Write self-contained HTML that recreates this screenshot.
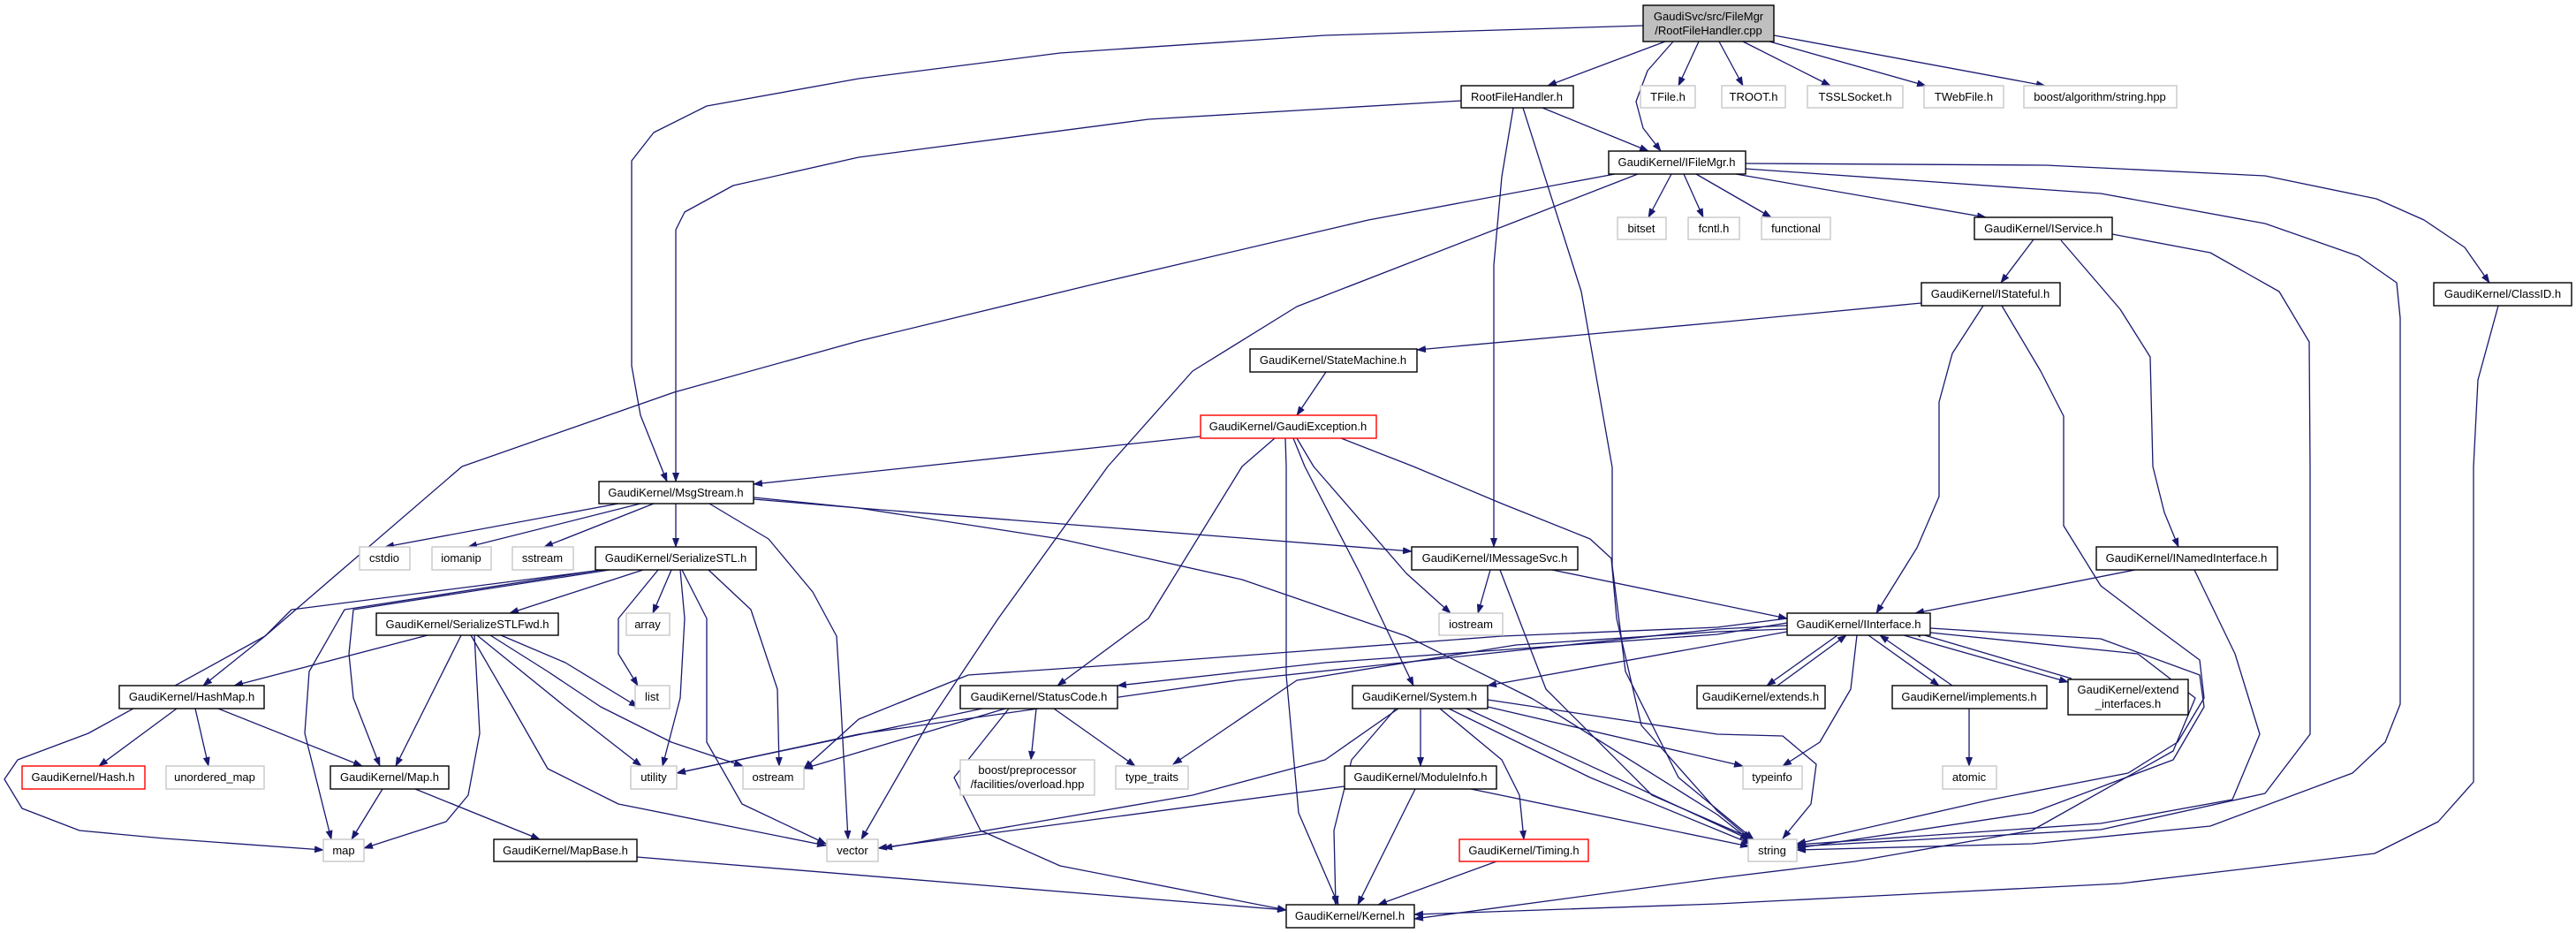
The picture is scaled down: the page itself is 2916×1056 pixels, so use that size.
<!DOCTYPE html>
<html><head><meta charset="utf-8"><style>
html,body{margin:0;padding:0;background:#fff;}
svg{display:block;}
text{font-family:"Liberation Sans",Arial,sans-serif;font-size:13px;text-anchor:middle;fill:#000;}
.e{fill:none;stroke:#191970;stroke-width:1.3;stroke-linejoin:round;marker-end:url(#a);}
.n{fill:#fff;stroke:#000;stroke-width:1.4;}
.g{fill:#fff;stroke:#c8c8c8;stroke-width:1.4;}
.r{fill:#fff;stroke:#ff0000;stroke-width:1.4;}
</style></head><body>
<svg width="2916" height="1056" viewBox="0 0 2916 1056" xmlns="http://www.w3.org/2000/svg">
<defs><marker id="a" markerUnits="userSpaceOnUse" markerWidth="11" markerHeight="8" refX="10" refY="4" orient="auto"><path d="M0,0 L11,4 L0,8 z" fill="#191970"/></marker></defs>
<g>
<polyline class="e" points="1885,47 1752,97"/>
<polyline class="e" points="1894,47 1865,80 1852,115 1860,145 1880,171"/>
<polyline class="e" points="1923,47 1900,97"/>
<polyline class="e" points="1946,47 1973,97"/>
<polyline class="e" points="1973,47 2072,97"/>
<polyline class="e" points="2003,47 2180,97"/>
<polyline class="e" points="2008,40 2315,97"/>
<polyline class="e" points="1860,29 1500,40 1200,60 972,89 800,120 740,150 715,182 715,414 725,470 745,520 755,545"/>
<polyline class="e" points="1746,122 1866,171"/>
<polyline class="e" points="1654,114 1300,135 972,178 830,210 775,240 765,260 765,545"/>
<polyline class="e" points="1713,122 1700,200 1691,300 1691,619"/>
<polyline class="e" points="1724,122 1790,330 1825,529 1825,640 1840,760 1900,880 1985,950"/>
<polyline class="e" points="1828,197 1549,249 1245,320 972,386 763,444 523,528 300,720 100,830 20,860 5,882 25,915 90,940 186,949 366,962"/>
<polyline class="e" points="1854,197 1710,253 1468,347 1350,420 1254,528 1130,700 1050,820 975,950"/>
<polyline class="e" points="1892,197 1866,246"/>
<polyline class="e" points="1906,197 1928,246"/>
<polyline class="e" points="1920,197 2005,246"/>
<polyline class="e" points="1965,197 2248,246"/>
<polyline class="e" points="1976,185 2316,187 2564,199 2690,225 2744,249 2790,280 2818,320"/>
<polyline class="e" points="1976,191 2378,219 2564,253 2670,290 2713,320 2717,360 2717,797 2700,840 2663,875 2502,935 2300,955 2034,962"/>
<polyline class="e" points="2302,271 2265,320"/>
<polyline class="e" points="2333,272 2400,350 2434,404 2437,528 2450,580 2466,619"/>
<polyline class="e" points="2391,265 2502,286 2580,330 2614,387 2615,528 2615,831 2564,898 2378,939 2034,958"/>
<polyline class="e" points="2175,343 1944,365 1604,396"/>
<polyline class="e" points="2245,346 2210,400 2195,455 2195,562 2170,620 2124,694"/>
<polyline class="e" points="2266,346 2310,420 2336,471 2336,595 2378,663 2440,710 2490,747 2495,790 2465,840 2409,875 2254,905 2034,955"/>
<polyline class="e" points="2417,645 2168,694"/>
<polyline class="e" points="2484,645 2530,740 2558,831 2527,905 2378,932 2034,956"/>
<polyline class="e" points="2828,346 2805,430 2800,528 2800,885 2760,930 2688,966 2400,1000 1944,1023 1601,1035"/>
<polyline class="e" points="1501,421 1468,470"/>
<polyline class="e" points="1359,494 853,548"/>
<polyline class="e" points="1443,496 1406,528 1300,700 1197,776"/>
<polyline class="e" points="1455,496 1456,528 1456,764 1470,920 1515,1024"/>
<polyline class="e" points="1464,496 1477,528 1540,650 1600,776"/>
<polyline class="e" points="1468,496 1487,528 1592,649 1642,694"/>
<polyline class="e" points="1518,496 1600,528 1700,570 1800,610 1824,632 1830,700 1858,821 1944,918 1982,950"/>
<polyline class="e" points="700,570 436,619"/>
<polyline class="e" points="725,570 530,619"/>
<polyline class="e" points="740,570 616,619"/>
<polyline class="e" points="765,570 765,619"/>
<polyline class="e" points="853,565 972,575 1598,624"/>
<polyline class="e" points="853,563 972,575 1200,610 1406,656 1592,720 1735,791 1944,922 1982,952"/>
<polyline class="e" points="803,570 870,610 920,670 947,720 952,800 960,950"/>
<polyline class="e" points="728,645 577,694"/>
<polyline class="e" points="760,645 739,694"/>
<polyline class="e" points="745,645 700,700 700,740 722,776"/>
<polyline class="e" points="770,645 775,700 770,790 750,867"/>
<polyline class="e" points="802,645 850,690 880,780 882,867"/>
<polyline class="e" points="772,645 800,700 800,840 840,910 935,955"/>
<polyline class="e" points="682,645 330,690 300,720 230,776"/>
<polyline class="e" points="690,645 400,690 395,740 400,790 430,867"/>
<polyline class="e" points="680,645 390,690 350,760 345,830 375,950"/>
<polyline class="e" points="484,719 265,776"/>
<polyline class="e" points="522,719 448,867"/>
<polyline class="e" points="537,719 543,830 530,900 505,930 412,960"/>
<polyline class="e" points="567,719 640,750 722,800"/>
<polyline class="e" points="540,719 640,800 726,867"/>
<polyline class="e" points="555,719 620,760 680,800 760,840 841,867"/>
<polyline class="e" points="533,719 580,800 620,870 700,910 935,957"/>
<polyline class="e" points="200,802 112,867"/>
<polyline class="e" points="221,802 236,867"/>
<polyline class="e" points="247,802 410,867"/>
<polyline class="e" points="433,893 398,950"/>
<polyline class="e" points="470,893 611,950"/>
<polyline class="e" points="721,970 1456,1030"/>
<polyline class="e" points="1687,645 1673,694"/>
<polyline class="e" points="1757,645 2023,700"/>
<polyline class="e" points="1698,645 1750,780 1870,900 1985,950"/>
<polyline class="e" points="1173,802 1167,860"/>
<polyline class="e" points="1193,802 1285,867"/>
<polyline class="e" points="1112,802 766,875"/>
<polyline class="e" points="1138,802 910,870"/>
<polyline class="e" points="1142,802 1080,880 1110,940 1200,980 1456,1030"/>
<polyline class="e" points="1608,802 1608,867"/>
<polyline class="e" points="1580,802 1530,860 1510,940 1512,1024"/>
<polyline class="e" points="1583,802 1500,860 1350,900 1000,960"/>
<polyline class="e" points="1660,802 1980,950"/>
<polyline class="e" points="1684,800 1973,867"/>
<polyline class="e" points="1630,802 1700,860 1720,900 1725,950"/>
<polyline class="e" points="1640,802 1800,880 1982,955"/>
<polyline class="e" points="1522,890 994,960"/>
<polyline class="e" points="1602,893 1537,1024"/>
<polyline class="e" points="1665,893 1980,958"/>
<polyline class="e" points="1694,975 1560,1024"/>
<polyline class="e" points="2023,705 1944,718 1500,750 1265,776"/>
<polyline class="e" points="2023,715 1684,776"/>
<polyline class="e" points="2023,700 1944,710 1700,720 1300,750 1096,764 972,814 910,870"/>
<polyline class="e" points="2023,708 1944,712 1400,770 972,831 766,875"/>
<polyline class="e" points="2023,712 1944,715 1716,730 1468,770 1328,865"/>
<polyline class="e" points="2080,719 2000,776"/>
<polyline class="e" points="2012,776 2090,719"/>
<polyline class="e" points="2115,719 2195,776"/>
<polyline class="e" points="2210,776 2128,719"/>
<polyline class="e" points="2155,719 2341,772"/>
<polyline class="e" points="2345,768 2165,715"/>
<polyline class="e" points="2102,719 2095,780 2060,840 2018,867"/>
<polyline class="e" points="2185,711 2378,723 2490,764 2495,800 2460,860 2300,920 2034,960"/>
<polyline class="e" points="2185,716 2420,740 2485,790 2460,850 2300,940 2100,975 1944,994 1601,1040"/>
<polyline class="e" points="1684,792 1944,831 2018,833 2056,865 2050,910 2018,949"/>
<polyline class="e" points="2229,802 2229,867"/>
</g>
<rect x="1860" y="6" width="148" height="41" fill="#bfbfbf" stroke="#000" stroke-width="1.4"/>
<text x="1934" y="23">GaudiSvc/src/FileMgr</text><text x="1934" y="39">/RootFileHandler.cpp</text>
<rect class="n" x="1654" y="97" width="127" height="25"/><text x="1717" y="114">RootFileHandler.h</text>
<rect class="g" x="1857" y="97" width="62" height="25"/><text x="1888" y="114">TFile.h</text>
<rect class="g" x="1949" y="97" width="72" height="25"/><text x="1985" y="114">TROOT.h</text>
<rect class="g" x="2046" y="97" width="108" height="25"/><text x="2100" y="114">TSSLSocket.h</text>
<rect class="g" x="2178" y="97" width="90" height="25"/><text x="2223" y="114">TWebFile.h</text>
<rect class="g" x="2291" y="97" width="173" height="25"/><text x="2377" y="114">boost/algorithm/string.hpp</text>
<rect class="n" x="1821" y="171" width="155" height="26"/><text x="1898" y="188">GaudiKernel/IFileMgr.h</text>
<rect class="g" x="1831" y="246" width="55" height="25"/><text x="1858" y="263">bitset</text>
<rect class="g" x="1911" y="246" width="58" height="25"/><text x="1940" y="263">fcntl.h</text>
<rect class="g" x="1994" y="246" width="78" height="25"/><text x="2033" y="263">functional</text>
<rect class="n" x="2235" y="246" width="156" height="25"/><text x="2313" y="263">GaudiKernel/IService.h</text>
<rect class="n" x="2175" y="320" width="157" height="26"/><text x="2253" y="337">GaudiKernel/IStateful.h</text>
<rect class="n" x="2755" y="320" width="156" height="26"/><text x="2833" y="337">GaudiKernel/ClassID.h</text>
<rect class="n" x="1415" y="395" width="189" height="26"/><text x="1509" y="412">GaudiKernel/StateMachine.h</text>
<rect class="r" x="1359" y="470" width="199" height="26"/><text x="1458" y="487">GaudiKernel/GaudiException.h</text>
<rect class="n" x="678" y="545" width="175" height="25"/><text x="765" y="562">GaudiKernel/MsgStream.h</text>
<rect class="g" x="407" y="619" width="57" height="26"/><text x="435" y="636">cstdio</text>
<rect class="g" x="489" y="619" width="67" height="26"/><text x="522" y="636">iomanip</text>
<rect class="g" x="580" y="619" width="69" height="26"/><text x="614" y="636">sstream</text>
<rect class="n" x="674" y="619" width="182" height="26"/><text x="765" y="636">GaudiKernel/SerializeSTL.h</text>
<rect class="n" x="1598" y="619" width="188" height="26"/><text x="1692" y="636">GaudiKernel/IMessageSvc.h</text>
<rect class="n" x="2373" y="619" width="205" height="26"/><text x="2475" y="636">GaudiKernel/INamedInterface.h</text>
<rect class="n" x="426" y="694" width="206" height="25"/><text x="529" y="711">GaudiKernel/SerializeSTLFwd.h</text>
<rect class="g" x="709" y="694" width="49" height="25"/><text x="733" y="711">array</text>
<rect class="g" x="1629" y="694" width="72" height="25"/><text x="1665" y="711">iostream</text>
<rect class="n" x="2023" y="694" width="162" height="25"/><text x="2104" y="711">GaudiKernel/IInterface.h</text>
<rect class="n" x="135" y="776" width="164" height="26"/><text x="217" y="793">GaudiKernel/HashMap.h</text>
<rect class="g" x="719" y="776" width="39" height="26"/><text x="738" y="793">list</text>
<rect class="n" x="1087" y="776" width="178" height="26"/><text x="1176" y="793">GaudiKernel/StatusCode.h</text>
<rect class="n" x="1531" y="776" width="153" height="26"/><text x="1607" y="793">GaudiKernel/System.h</text>
<rect class="n" x="1921" y="776" width="145" height="26"/><text x="1993" y="793">GaudiKernel/extends.h</text>
<rect class="n" x="2142" y="776" width="175" height="26"/><text x="2229" y="793">GaudiKernel/implements.h</text>
<rect class="n" x="2341" y="769" width="136" height="40"/><text x="2409" y="785">GaudiKernel/extend</text><text x="2409" y="801">_interfaces.h</text>
<rect class="r" x="25" y="867" width="139" height="26"/><text x="94" y="884">GaudiKernel/Hash.h</text>
<rect class="g" x="188" y="867" width="111" height="26"/><text x="243" y="884">unordered_map</text>
<rect class="n" x="374" y="867" width="134" height="26"/><text x="441" y="884">GaudiKernel/Map.h</text>
<rect class="g" x="714" y="867" width="52" height="26"/><text x="740" y="884">utility</text>
<rect class="g" x="841" y="867" width="69" height="26"/><text x="875" y="884">ostream</text>
<rect class="g" x="1087" y="860" width="152" height="40"/><text x="1163" y="876">boost/preprocessor</text><text x="1163" y="892">/facilities/overload.hpp</text>
<rect class="g" x="1263" y="867" width="82" height="26"/><text x="1304" y="884">type_traits</text>
<rect class="n" x="1522" y="867" width="172" height="26"/><text x="1608" y="884">GaudiKernel/ModuleInfo.h</text>
<rect class="g" x="1973" y="867" width="67" height="26"/><text x="2006" y="884">typeinfo</text>
<rect class="g" x="2199" y="867" width="61" height="26"/><text x="2229" y="884">atomic</text>
<rect class="g" x="366" y="950" width="46" height="25"/><text x="389" y="967">map</text>
<rect class="n" x="559" y="950" width="162" height="25"/><text x="640" y="967">GaudiKernel/MapBase.h</text>
<rect class="g" x="936" y="950" width="58" height="25"/><text x="965" y="967">vector</text>
<rect class="r" x="1652" y="950" width="146" height="25"/><text x="1725" y="967">GaudiKernel/Timing.h</text>
<rect class="g" x="1979" y="950" width="55" height="25"/><text x="2006" y="967">string</text>
<rect class="n" x="1456" y="1024" width="145" height="26"/><text x="1528" y="1041">GaudiKernel/Kernel.h</text>
</svg>
</body></html>
